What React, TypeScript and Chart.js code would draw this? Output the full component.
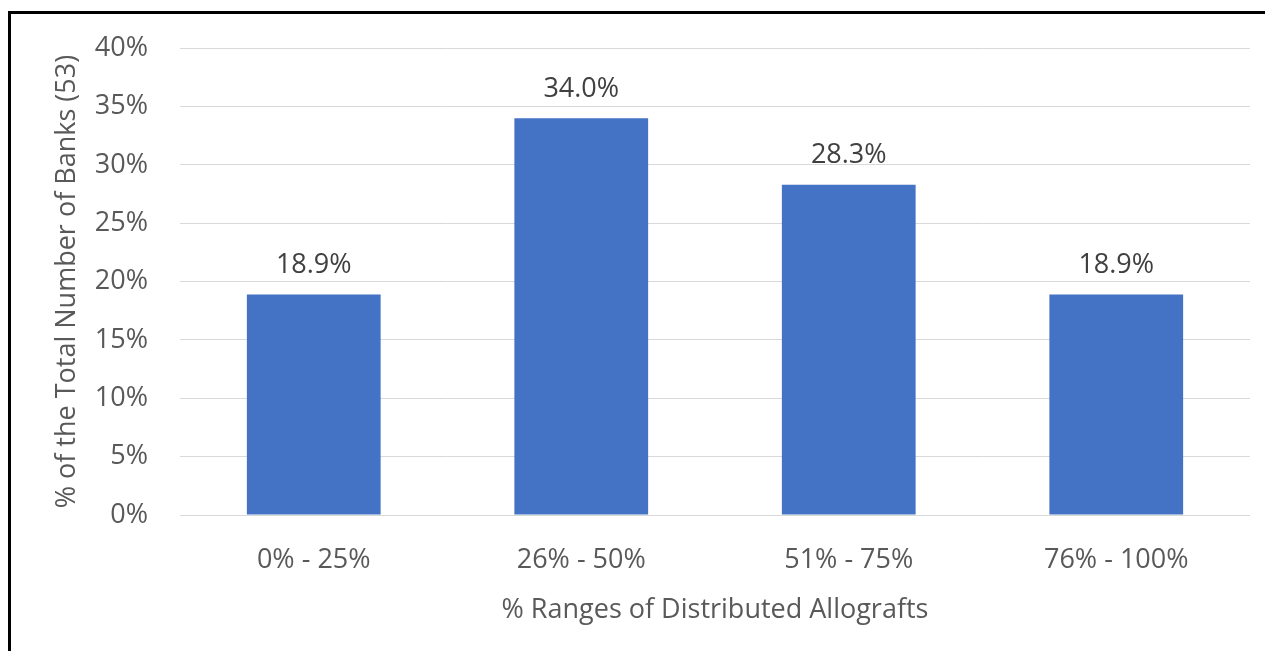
import React, { useEffect, useRef } from "react";
import { Chart, registerables } from "chart.js";

Chart.register(...registerables);

const categories = ["0% - 25%", "26% - 50%", "51% - 75%", "76% - 100%"];
const values = [18.9, 34.0, 28.3, 18.9];
const yTicks = [0, 5, 10, 15, 20, 25, 30, 35, 40];
const xTitle = "% Ranges of Distributed Allografts";
const yTitle = "% of the Total Number of Banks (53)";

const FONT = "'Open Sans', sans-serif";
const FS = 27;

const labelPlugin = {
  id: "barValueLabels",
  afterDatasetsDraw(chart: any) {
    const ctx = chart.ctx;
    const meta = chart.getDatasetMeta(0);
    ctx.save();
    ctx.font = `${FS}px ${FONT}`;
    ctx.fillStyle = "#404040";
    ctx.textAlign = "center";
    ctx.textBaseline = "middle";
    meta.data.forEach((bar: any, i: number) => {
      ctx.fillText(values[i].toFixed(1) + "%", bar.x, bar.y - 29);
    });
    ctx.restore();
  },
};

export default function App() {
  const ref = useRef<HTMLCanvasElement | null>(null);
  useEffect(() => {
    if (!ref.current) return;
    const chart = new Chart(ref.current, {
      type: "bar",
      data: {
        labels: categories,
        datasets: [
          {
            data: values,
            backgroundColor: "#4472C4",
            barPercentage: 0.5,
            categoryPercentage: 1,
          },
        ],
      },
      options: {
        animation: false,
        responsive: false,
        maintainAspectRatio: false,
        layout: { padding: { left: 40, top: 45, right: 15, bottom: 0 } },
        plugins: { legend: { display: false }, tooltip: { enabled: false } },
        scales: {
          x: {
            grid: { display: false },
            border: { display: false },
            ticks: {
              color: "#595959",
              font: { family: FONT, size: FS },
              padding: 21,
              maxRotation: 0,
            },
            title: {
              display: true,
              text: xTitle,
              color: "#595959",
              font: { family: FONT, size: FS },
              padding: { top: 0, bottom: 24 },
            },
            afterFit(scale: any) {
              scale.height = 136;
            },
          },
          y: {
            min: 0,
            max: 40,
            afterBuildTicks(scale: any) {
              scale.ticks = yTicks.map((v) => ({ value: v }));
            },
            grid: { color: "#d9d9d9", lineWidth: 1, drawTicks: false },
            border: { display: false },
            ticks: {
              color: "#595959",
              font: { family: FONT, size: FS },
              padding: 32,
              callback: (v: any) => v + "%",
            },
            title: {
              display: true,
              text: yTitle,
              color: "#595959",
              font: { family: FONT, size: FS },
              padding: { top: 11, bottom: 0 },
            },
            afterFit(scale: any) {
              scale.width = 140;
            },
          },
        },
      },
      plugins: [labelPlugin],
    });
    return () => chart.destroy();
  }, []);

  return (
    <div
      style={{
        position: "fixed",
        left: 0,
        top: 0,
        width: 1265,
        height: 651,
        background: "#ffffff",
        overflow: "hidden",
      }}
    >
      <div
        style={{
          position: "absolute",
          left: 8,
          top: 11,
          width: 1300,
          height: 700,
          borderTop: "3px solid #000",
          borderLeft: "3px solid #000",
        }}
      />
      <canvas
        ref={ref}
        width={1265}
        height={651}
        style={{ position: "absolute", left: 0, top: 0, width: 1265, height: 651 }}
      />
    </div>
  );
}
